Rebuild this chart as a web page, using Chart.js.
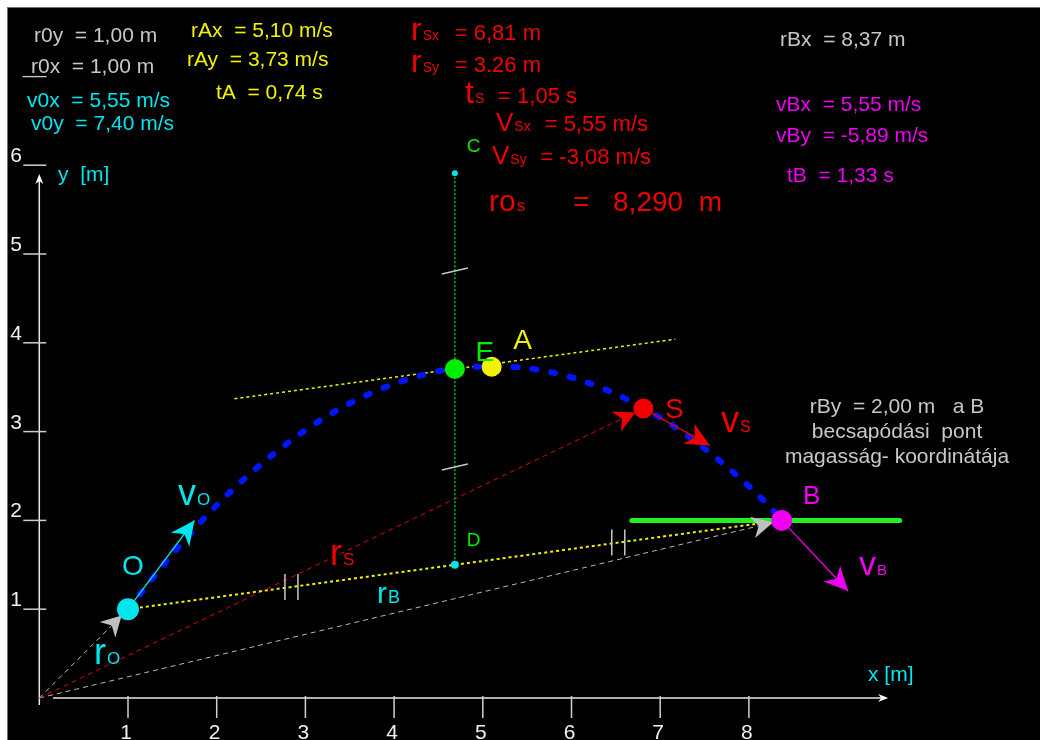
<!DOCTYPE html>
<html>
<head>
<meta charset="utf-8">
<script src="https://cdn.jsdelivr.net/npm/chart.js@4.4.1/dist/chart.umd.min.js"></script>
<style>
    html, body { margin: 0; padding: 0; background: #fff; }
    #wrap { width: 1040px; height: 740px; }
</style>
</head>
<body>
<div id="wrap"><canvas id="ferde-hajitas" width="1040" height="740"></canvas></div>
<script>
// tengely feliratok
const xTicks = [1, 2, 3, 4, 5, 6, 7, 8];
const yTicks = [1, 2, 3, 4, 5, 6];

// a pálya pontjai
const pathX = [1.00, 1.56, 2.11, 2.67, 3.22, 3.78, 4.33, 4.89, 5.10, 5.44, 6.00, 6.55, 6.81, 7.11, 7.66, 8.22, 8.37];
const pathY = [1.00, 1.69, 2.28, 2.77, 3.16, 3.45, 3.64, 3.73, 3.73, 3.72, 3.61, 3.40, 3.26, 3.09, 2.68, 2.17, 2.00];

// nevezetes pontok: O, E, A, S, B
const pointNames = ["O", "E", "A", "S", "B"];
const pointX = [1.00, 4.685, 5.10, 6.81, 8.37];
const pointY = [1.00, 3.705, 3.73, 3.26, 2.00];

// segédpontok: C, D
const helperNames = ["C", "D"];
const helperX = [4.685, 4.685];
const helperY = [5.91, 1.50];

// sebességvektorok (m/s)
const v0 = [5.55, 7.40];
const vS = [5.55, -3.08];
const vB = [5.55, -5.89];

// érintő egyenes E-n át (OB-vel párhuzamos)
const tangentX = [2.20, 7.17];
const tangentY = [3.37, 4.04];

// becsapódási szint (rBy = 2,00 m)
const groundX = [6.68, 9.70];
const groundY = [2.00, 2.00];

const FONT = '"Liberation Sans", Arial, sans-serif';
const VEC_SCALE = 0.135; // sebességvektor rajzolási léptéke

const C_GRAY = "#c8c8c8";
const C_CYAN = "#00e6ec";
const C_YELLOW = "#f2f200";
const C_RED = "#f00000";
const C_MAGENTA = "#f000f0";
const C_GREEN = "#00ee00";
const C_BLUE = "#0014ff";

function pt(i) {
    return { x: pointX[i], y: pointY[i] };
}
function tip(i, v) {
    return { x: pointX[i] + VEC_SCALE * v[0], y: pointY[i] + VEC_SCALE * v[1] };
}
function line(data, color, width, dash, extra) {
    return Object.assign({
        data: data,
        showLine: true,
        borderColor: color,
        borderWidth: width,
        borderDash: dash,
        pointRadius: 0,
        fill: false,
    }, extra || {});
}

function txt(ctx, s, x, y, size, color, align) {
    ctx.font = size + "px " + FONT;
    ctx.fillStyle = color;
    ctx.textAlign = align || "left";
    ctx.textBaseline = "alphabetic";
    ctx.fillText(s, x, y);
}
// nagy betű + alsó index
function sub(ctx, main, small, x, y, bigSize, smallSize, color) {
    ctx.font = bigSize + "px " + FONT;
    const w = ctx.measureText(main).width;
    txt(ctx, main, x, y, bigSize, color);
    txt(ctx, small, x + w + 1, y, smallSize, color);
}

function arrowHead(ctx, x1, y1, x2, y2, len, hw, color) {
    const dx = x2 - x1, dy = y2 - y1;
    const d = Math.hypot(dx, dy);
    const ux = dx / d, uy = dy / d;
    const nx = -uy, ny = ux;
    ctx.beginPath();
    ctx.moveTo(x2, y2);
    ctx.lineTo(x2 - ux * len + nx * hw, y2 - uy * len + ny * hw);
    ctx.lineTo(x2 - ux * len * 0.7, y2 - uy * len * 0.7);
    ctx.lineTo(x2 - ux * len - nx * hw, y2 - uy * len - ny * hw);
    ctx.closePath();
    ctx.fillStyle = color;
    ctx.fill();
}

const diagramPlugin = {
    id: "diagram",
    beforeDraw(chart) {
        const ctx = chart.ctx;
        ctx.save();
        ctx.fillStyle = "#ffffff";
        ctx.fillRect(0, 0, chart.width, chart.height);
        ctx.fillStyle = "#707070";
        ctx.fillRect(7, 7, chart.width - 7, 1);
        ctx.fillRect(7, 7, 1, chart.height - 7);
        ctx.fillStyle = "#000000";
        ctx.fillRect(8, 8, chart.width - 8, chart.height - 8);
        ctx.restore();
    },
    beforeDatasetsDraw(chart) {
        const ctx = chart.ctx;
        const sx = chart.scales.x, sy = chart.scales.y;
        const x0 = sx.getPixelForValue(0), y0 = sy.getPixelForValue(0);
        ctx.save();
        ctx.strokeStyle = "#e8e8e8";
        ctx.lineWidth = 1.5;
        // y tengely
        const yTop = sy.getPixelForValue(5.90);
        ctx.beginPath();
        ctx.moveTo(x0, y0 + 7);
        ctx.lineTo(x0, yTop + 6);
        ctx.stroke();
        arrowHead(ctx, x0, y0, x0, yTop, 10, 4, "#ffffff");
        // x tengely
        const xEnd = sx.getPixelForValue(9.57);
        ctx.beginPath();
        ctx.moveTo(sx.getPixelForValue(0.155), y0);
        ctx.lineTo(xEnd - 6, y0);
        ctx.stroke();
        arrowHead(ctx, x0, y0, xEnd, y0, 10, 4, "#ffffff");
        // osztások
        ctx.strokeStyle = "#d0d0d0";
        xTicks.forEach(t => {
            const px = sx.getPixelForValue(t);
            ctx.beginPath();
            ctx.moveTo(px, y0 - 2);
            ctx.lineTo(px, y0 + 20);
            ctx.stroke();
            txt(ctx, String(t), px - 2, 739, 21, "#f0f0f0", "center");
        });
        yTicks.forEach(t => {
            const py = sy.getPixelForValue(t);
            ctx.beginPath();
            ctx.moveTo(x0 - 16, py);
            ctx.lineTo(x0 + 7, py);
            ctx.stroke();
            txt(ctx, String(t), 22, py - 3, 21, "#f0f0f0", "right");
        });
        txt(ctx, "x [m]", 868, 681, 21, C_CYAN);
        txt(ctx, "y  [m]", 58, 181, 21, C_CYAN);
        ctx.restore();
    },
    beforeDatasetDraw(chart, args) {
        if (args.index !== 0) return;
        const ctx = chart.ctx;
        const X = v => chart.scales.x.getPixelForValue(v);
        const Y = v => chart.scales.y.getPixelForValue(v);
        ctx.save();
        // helyvektorok nyilai (a kör szélénél)
        const origin = { x: X(0), y: Y(0) };
        [[0, "#c0c0c0", 20, 11], [3, C_RED, 21, 11], [4, "#c0c0c0", 21, 11]].forEach(([i, col, len, hw]) => {
            const px = X(pointX[i]), py = Y(pointY[i]);
            const d = Math.hypot(px - origin.x, py - origin.y);
            const ex = px - (px - origin.x) / d * 9, ey = py - (py - origin.y) / d * 9;
            arrowHead(ctx, origin.x, origin.y, ex, ey, len, hw, col);
        });
        // sebességvektorok nyilai
        [[0, v0, C_CYAN], [3, vS, C_RED], [4, vB, C_MAGENTA]].forEach(([i, v, col]) => {
            const t = tip(i, v);
            arrowHead(ctx, X(pointX[i]), Y(pointY[i]), X(t.x), Y(t.y), 24, 11.5, col);
        });
        // felezési jelek
        ctx.strokeStyle = "#c8c8c8";
        ctx.lineWidth = 1.5;
        const marksCD = [
            [(helperX[0] + pointX[1]) / 2, (helperY[0] + pointY[1]) / 2],
            [(helperX[1] + pointX[1]) / 2, (helperY[1] + pointY[1]) / 2],
        ];
        marksCD.forEach(([mx, my]) => {
            const px = X(mx), py = Y(my);
            ctx.beginPath();
            ctx.moveTo(px - 13, py + 3);
            ctx.lineTo(px + 13, py - 3);
            ctx.stroke();
        });
        const marksOB = [
            [(pointX[0] + helperX[1]) / 2, (pointY[0] + helperY[1]) / 2],
            [(pointX[4] + helperX[1]) / 2, (pointY[4] + helperY[1]) / 2],
        ];
        marksOB.forEach(([mx, my]) => {
            const px = X(mx), py = Y(my);
            [-6.5, 6.5].forEach(off => {
                ctx.beginPath();
                ctx.moveTo(px + off, py - 13);
                ctx.lineTo(px + off, py + 13);
                ctx.stroke();
            });
        });
        ctx.restore();
    },
    afterDatasetsDraw(chart) {
        const ctx = chart.ctx;
        const X = v => chart.scales.x.getPixelForValue(v);
        const Y = v => chart.scales.y.getPixelForValue(v);
        ctx.save();
        // pontok betűjelei
        const ox = X(pointX[0]), oy = Y(pointY[0]);
        txt(ctx, "O", ox + 5, oy - 34, 28, C_CYAN, "center");
        txt(ctx, "E", X(pointX[1]) + 30, Y(pointY[1]) - 8, 28, C_GREEN, "center");
        txt(ctx, "A", X(pointX[2]) + 31, Y(pointY[2]) - 18, 28, C_YELLOW, "center");
        txt(ctx, "S", X(pointX[3]) + 31, Y(pointY[3]) + 9, 28, C_RED, "center");
        txt(ctx, "B", X(pointX[4]) + 30, Y(pointY[4]) - 16, 26, C_MAGENTA, "center");
        txt(ctx, "C", X(helperX[0]) + 12, Y(helperY[0]) - 21, 19, C_GREEN);
        txt(ctx, "D", X(helperX[1]) + 12, Y(helperY[1]) - 19, 19, C_GREEN);
        // vektorok nevei
        sub(ctx, "v", "O", 178, 505, 36, 17, C_CYAN);
        sub(ctx, "r", "O", 94, 664, 36, 17, C_CYAN);
        sub(ctx, "r", "S", 330, 565, 36, 17, C_RED);
        sub(ctx, "r", "B", 377, 603, 30, 18, C_CYAN);
        sub(ctx, "v", "S", 721, 432, 36, 16, C_RED);
        sub(ctx, "v", "B", 859, 575, 34, 15, C_MAGENTA);

        // bal felső adatok
        txt(ctx, "r0y  = 1,00 m", 34, 42, 21, C_GRAY);
        txt(ctx, "__", 23, 73, 21, C_GRAY);
        txt(ctx, "r0x  = 1,00 m", 31, 73, 21, C_GRAY);
        txt(ctx, "v0x  = 5,55 m/s", 27, 107, 21, C_CYAN);
        txt(ctx, "v0y  = 7,40 m/s", 31, 130, 21, C_CYAN);
        txt(ctx, "rAx  = 5,10 m/s", 191, 37, 21, C_YELLOW);
        txt(ctx, "rAy  = 3,73 m/s", 187, 66, 21, C_YELLOW);
        txt(ctx, "tA  = 0,74 s", 216, 99, 21, C_YELLOW);

        // S pont adatai
        sub(ctx, "r", "Sx", 411, 40, 32, 14, C_RED);
        txt(ctx, "= 6,81 m", 541, 40, 22, C_RED, "right");
        sub(ctx, "r", "Sy", 411, 72, 32, 14, C_RED);
        txt(ctx, "= 3.26 m", 541, 72, 22, C_RED, "right");
        sub(ctx, "t", "S", 465, 103, 32, 14, C_RED);
        txt(ctx, "= 1,05 s", 577, 103, 22, C_RED, "right");
        sub(ctx, "V", "Sx", 496, 131, 26, 14, C_RED);
        txt(ctx, "= 5,55 m/s", 648, 131, 22, C_RED, "right");
        sub(ctx, "V", "Sy", 492, 164, 26, 14, C_RED);
        txt(ctx, "= -3,08 m/s", 651, 164, 22, C_RED, "right");
        sub(ctx, "ro", "s", 489, 211, 30, 17, C_RED);
        txt(ctx, "=   8,290  m", 722, 211, 28, C_RED, "right");

        // B pont adatai
        txt(ctx, "rBx  = 8,37 m", 780, 46, 21, C_GRAY);
        txt(ctx, "vBx  = 5,55 m/s", 776, 111, 21, C_MAGENTA);
        txt(ctx, "vBy  = -5,89 m/s", 776, 142, 21, C_MAGENTA);
        txt(ctx, "tB  = 1,33 s", 787, 182, 21, C_MAGENTA);
        txt(ctx, "rBy  = 2,00 m   a B", 897, 413, 21, C_GRAY, "center");
        txt(ctx, "becsapódási  pont", 897, 438, 21, C_GRAY, "center");
        txt(ctx, "magasság- koordinátája", 897, 463, 21, C_GRAY, "center");
        ctx.restore();
    },
};

function initializeChart() {
    const canvas = document.getElementById("ferde-hajitas");
    const origin = { x: 0, y: 0 };

    const datasets = [
        // 0: nevezetes pontok (legfelül)
        {
            data: pointX.map((x, i) => ({ x: x, y: pointY[i] })),
            pointRadius: [11, 10, 10, 10, 10.5],
            pointBackgroundColor: [C_CYAN, C_GREEN, C_YELLOW, C_RED, C_MAGENTA],
            pointBorderWidth: 0,
            showLine: false,
        },
        // 1: C, D
        {
            data: helperX.map((x, i) => ({ x: x, y: helperY[i] })),
            pointRadius: [3, 4],
            pointBackgroundColor: C_CYAN,
            pointBorderWidth: 0,
            showLine: false,
        },
        // sebességvektorok
        line([pt(0), tip(0, v0)], C_CYAN, 1.3, []),
        line([pt(3), tip(3, vS)], C_RED, 1.3, []),
        line([pt(4), tip(4, vB)], C_MAGENTA, 1.3, []),
        // pálya
        line(pathX.map((x, i) => ({ x: x, y: pathY[i] })), C_BLUE, 6, [4, 15], {
            borderCapStyle: "round",
            cubicInterpolationMode: "monotone",
        }),
        // becsapódási szint
        line(groundX.map((x, i) => ({ x: x, y: groundY[i] })), "#22ee22", 5, [], { borderCapStyle: "round" }),
        // C-D függőleges
        line([{ x: helperX[0], y: helperY[0] }, { x: helperX[1], y: helperY[1] }], "#00c800", 1.5, [2, 2]),
        // O-B húr
        line([pt(0), pt(4)], C_YELLOW, 2, [3, 3]),
        // érintő
        line(tangentX.map((x, i) => ({ x: x, y: tangentY[i] })), C_YELLOW, 1.5, [3, 3]),
        // helyvektorok
        line([origin, pt(0)], "#b8b8b8", 1, [5, 4]),
        line([origin, pt(3)], "#e00000", 1, [5, 4]),
        line([origin, pt(4)], "#b8b8b8", 1, [5, 4]),
    ];

    const config = {
        type: "scatter",
        data: { datasets: datasets },
        options: {
            responsive: false,
            animation: false,
            devicePixelRatio: 1,
            layout: { padding: 0, autoPadding: false },
            plugins: {
                legend: { display: false },
                tooltip: { enabled: false },
            },
            scales: {
                x: { type: "linear", min: -39.3 / 88.7, max: (1040 - 39.3) / 88.7, display: false },
                y: { type: "linear", min: -(740 - 698) / 88.8, max: 698 / 88.8, display: false },
            },
        },
        plugins: [diagramPlugin],
    };

    canvas.chart = new Chart(canvas, config);
}

document.addEventListener("DOMContentLoaded", initializeChart);
</script>
</body>
</html>
